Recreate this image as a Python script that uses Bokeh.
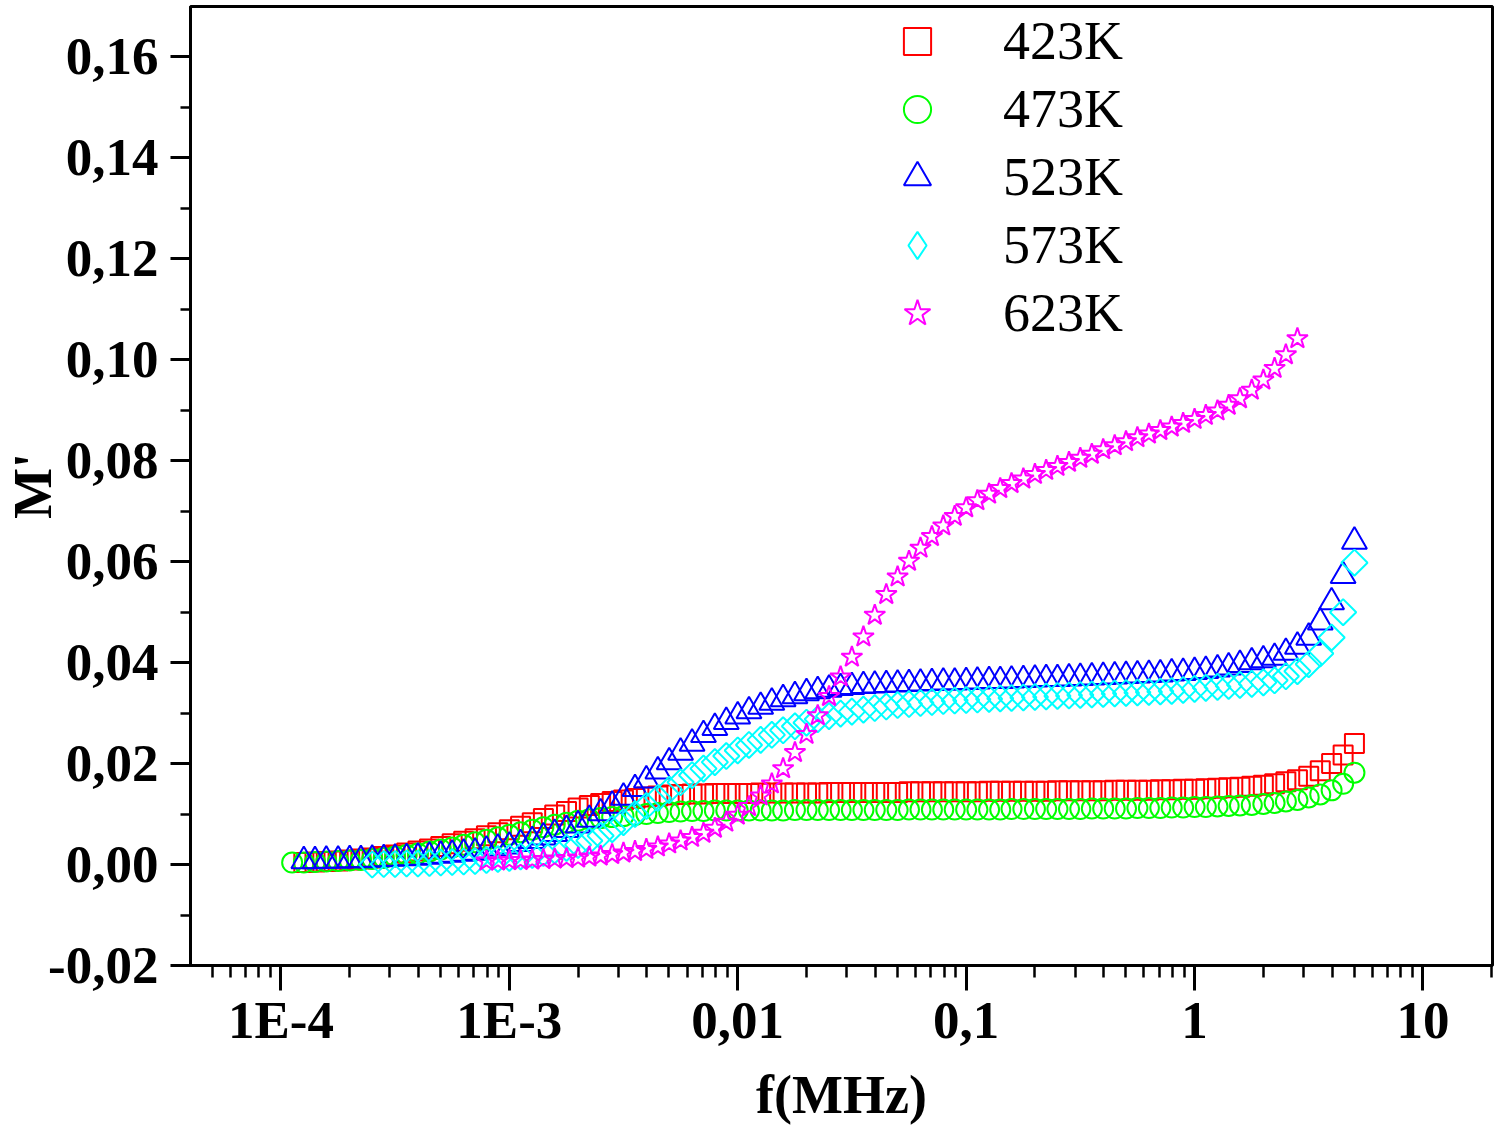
from math import pi

from bokeh.embed import file_html
from bokeh.models import (ColumnDataSource, CustomJSTickFormatter, FixedTicker, Legend, LegendItem,
                          Range1d)
from bokeh.plotting import figure
from bokeh.resources import INLINE

# frequency sweep (MHz), shared by all temperatures
freq_mhz = [
    1.12e-4, 1.26e-4, 1.41e-4, 1.58e-4, 1.78e-4, 2.00e-4, 2.24e-4, 2.51e-4, 2.82e-4, 3.16e-4,
    3.55e-4, 3.98e-4, 4.47e-4, 5.01e-4, 5.62e-4, 6.31e-4, 7.08e-4, 7.94e-4, 8.91e-4,
    1.00e-3, 1.12e-3, 1.26e-3, 1.41e-3, 1.58e-3, 1.78e-3, 2.00e-3, 2.24e-3, 2.51e-3, 2.82e-3,
    3.16e-3, 3.55e-3, 3.98e-3, 4.47e-3, 5.01e-3, 5.62e-3, 6.31e-3, 7.08e-3, 7.94e-3, 8.91e-3,
    0.0100, 0.0112, 0.0126, 0.0141, 0.0158, 0.0178, 0.0200, 0.0224, 0.0251, 0.0282,
    0.0316, 0.0355, 0.0398, 0.0447, 0.0501, 0.0562, 0.0631, 0.0708, 0.0794, 0.0891,
    0.100, 0.112, 0.126, 0.141, 0.158, 0.178, 0.200, 0.224, 0.251, 0.282,
    0.316, 0.355, 0.398, 0.447, 0.501, 0.562, 0.631, 0.708, 0.794, 0.891,
    1.00, 1.12, 1.26, 1.41, 1.58, 1.78, 2.00, 2.24, 2.51, 2.82,
    3.16, 3.55, 3.98, 4.47, 5.01,
]

# M' values, each series starts at freq_mhz[start]
m_423_start = 1
m_423 = [
    0.0004, 0.0005, 0.0006, 0.0007, 0.0009, 0.0011, 0.0013, 0.0016, 0.0019, 0.0023,
    0.0027, 0.0031, 0.0036, 0.0041, 0.0046, 0.0051, 0.0057, 0.0063, 0.0069, 0.0076,
    0.0083, 0.0091, 0.0098, 0.0105, 0.0112, 0.0117, 0.0121, 0.0125, 0.0128, 0.0131,
    0.0134, 0.0136, 0.0138, 0.0139, 0.0140, 0.0140, 0.0141, 0.0141, 0.0141, 0.0141,
    0.0142, 0.0142, 0.0142, 0.0142, 0.0142, 0.0142, 0.0143, 0.0143, 0.0143, 0.0143,
    0.0143, 0.0143, 0.0143, 0.0144, 0.0144, 0.0144, 0.0144, 0.0144, 0.0144, 0.0144,
    0.0145, 0.0145, 0.0145, 0.0145, 0.0145, 0.0145, 0.0146, 0.0146, 0.0146, 0.0146,
    0.0146, 0.0147, 0.0147, 0.0147, 0.0147, 0.0148, 0.0148, 0.0149, 0.0149, 0.0150,
    0.0151, 0.0152, 0.0153, 0.0155, 0.0157, 0.0160, 0.0164, 0.0168, 0.0175, 0.0186,
    0.0200, 0.0217, 0.0240,
]

m_473_start = 0
m_473 = [
    0.0004, 0.0004, 0.0005, 0.0006, 0.0007, 0.0008, 0.0009, 0.0011, 0.0013, 0.0016,
    0.0019, 0.0022, 0.0026, 0.0030, 0.0034, 0.0039, 0.0044, 0.0049, 0.0054, 0.0059,
    0.0064, 0.0069, 0.0074, 0.0079, 0.0083, 0.0087, 0.0090, 0.0092, 0.0094, 0.0096,
    0.0098, 0.0100, 0.0102, 0.0104, 0.0105, 0.0106, 0.0106, 0.0107, 0.0107, 0.0107,
    0.0107, 0.0107, 0.0107, 0.0107, 0.0108, 0.0108, 0.0108, 0.0108, 0.0108, 0.0108,
    0.0108, 0.0108, 0.0108, 0.0108, 0.0109, 0.0109, 0.0109, 0.0109, 0.0109, 0.0109,
    0.0109, 0.0109, 0.0109, 0.0110, 0.0110, 0.0110, 0.0110, 0.0110, 0.0110, 0.0110,
    0.0111, 0.0111, 0.0111, 0.0111, 0.0112, 0.0112, 0.0112, 0.0113, 0.0113, 0.0114,
    0.0114, 0.0115, 0.0116, 0.0117, 0.0118, 0.0120, 0.0122, 0.0125, 0.0128, 0.0133,
    0.0139, 0.0147, 0.0160, 0.0182,
]

m_523_start = 1
m_523 = [
    0.0007, 0.0007, 0.0008, 0.0008, 0.0009, 0.0009, 0.0010, 0.0011, 0.0012, 0.0013,
    0.0014, 0.0016, 0.0018, 0.0020, 0.0022, 0.0024, 0.0028, 0.0032, 0.0036, 0.0041,
    0.0047, 0.0054, 0.0061, 0.0069, 0.0078, 0.0089, 0.0102, 0.0117, 0.0133, 0.0150,
    0.0167, 0.0185, 0.0203, 0.0222, 0.0240, 0.0257, 0.0271, 0.0283, 0.0294, 0.0304,
    0.0313, 0.0321, 0.0328, 0.0334, 0.0340, 0.0344, 0.0347, 0.0350, 0.0352, 0.0354,
    0.0355, 0.0356, 0.0357, 0.0358, 0.0359, 0.0360, 0.0361, 0.0361, 0.0362, 0.0363,
    0.0364, 0.0364, 0.0365, 0.0366, 0.0367, 0.0368, 0.0368, 0.0369, 0.0370, 0.0371,
    0.0372, 0.0373, 0.0374, 0.0375, 0.0376, 0.0377, 0.0379, 0.0380, 0.0382, 0.0384,
    0.0387, 0.0391, 0.0396, 0.0401, 0.0405, 0.0410, 0.0420, 0.0432, 0.0450, 0.0480,
    0.0520, 0.0572, 0.0640,
]

m_573_start = 7
m_573 = [
    0.0000, 0.0001, 0.0001, 0.0002, 0.0002, 0.0003, 0.0004, 0.0005, 0.0006, 0.0007,
    0.0009, 0.0011, 0.0013, 0.0016, 0.0019, 0.0023, 0.0028, 0.0033, 0.0039, 0.0047,
    0.0057, 0.0070, 0.0084, 0.0100, 0.0116, 0.0132, 0.0148, 0.0163, 0.0177, 0.0190,
    0.0203, 0.0215, 0.0226, 0.0237, 0.0247, 0.0257, 0.0266, 0.0274, 0.0281, 0.0288,
    0.0294, 0.0299, 0.0303, 0.0307, 0.0310, 0.0313, 0.0316, 0.0318, 0.0320, 0.0322,
    0.0324, 0.0325, 0.0326, 0.0327, 0.0328, 0.0329, 0.0330, 0.0331, 0.0332, 0.0333,
    0.0334, 0.0335, 0.0336, 0.0337, 0.0338, 0.0339, 0.0340, 0.0341, 0.0342, 0.0343,
    0.0344, 0.0346, 0.0348, 0.0350, 0.0352, 0.0354, 0.0356, 0.0358, 0.0361, 0.0365,
    0.0373, 0.0383, 0.0397, 0.0418, 0.0450, 0.0500, 0.0598,
]

m_623_start = 17
m_623 = [
    0.0007, 0.0007, 0.0008, 0.0008, 0.0009, 0.0010, 0.0011, 0.0012, 0.0013, 0.0015,
    0.0017, 0.0020, 0.0023, 0.0026, 0.0030, 0.0035, 0.0041, 0.0047, 0.0054, 0.0062,
    0.0072, 0.0084, 0.0098, 0.0115, 0.0136, 0.0160, 0.0190, 0.0222, 0.0258, 0.0295,
    0.0333, 0.0372, 0.0411, 0.0451, 0.0494, 0.0535, 0.0570, 0.0601, 0.0627, 0.0650,
    0.0671, 0.0690, 0.0707, 0.0721, 0.0734, 0.0745, 0.0755, 0.0764, 0.0773, 0.0781,
    0.0789, 0.0797, 0.0805, 0.0813, 0.0822, 0.0830, 0.0838, 0.0846, 0.0853, 0.0860,
    0.0867, 0.0874, 0.0882, 0.0890, 0.0899, 0.0910, 0.0923, 0.0940, 0.0960, 0.0983,
    0.1010, 0.1042,
]

x_tick_values = [1e-4, 1e-3, 1e-2, 1e-1, 1, 10]
x_tick_labels = ["1E-4", "1E-3", "0,01", "0,1", "1", "10"]
y_tick_values = [-0.02, 0.0, 0.02, 0.04, 0.06, 0.08, 0.10, 0.12, 0.14, 0.16]
y_tick_labels = ["-0,02", "0,00", "0,02", "0,04", "0,06", "0,08", "0,10", "0,12", "0,14", "0,16"]

FONT = "Liberation Serif"

p = figure(width=1495, height=1136, x_axis_type="log",
           x_range=Range1d(4.02e-5, 20.15), y_range=Range1d(-0.02, 0.17),
           output_backend="svg", toolbar_location=None,
           min_border_left=182, min_border_right=3, min_border_top=6, min_border_bottom=171)

p.xgrid.grid_line_color = None
p.ygrid.grid_line_color = None
p.outline_line_color = "black"
p.outline_line_width = 3
p.background_fill_color = "white"
p.border_fill_color = "white"

# ticks
x_minor = [m * 10.0 ** e for e in range(-5, 2) for m in range(2, 10)]
y_minor = [-0.01 + 0.02 * k for k in range(9)]
p.xaxis.ticker = FixedTicker(ticks=x_tick_values, minor_ticks=x_minor)
p.yaxis.ticker = FixedTicker(ticks=y_tick_values, minor_ticks=y_minor)

p.xaxis.formatter = CustomJSTickFormatter(args=dict(vals=x_tick_values, labs=x_tick_labels), code="""
    let k = 0, d = Infinity;
    for (let i = 0; i < vals.length; i++) {
        const e = Math.abs(Math.log10(vals[i]) - Math.log10(tick));
        if (e < d) { d = e; k = i; }
    }
    return labs[k];
""")
p.yaxis.formatter = CustomJSTickFormatter(args=dict(vals=y_tick_values, labs=y_tick_labels), code="""
    let k = 0, d = Infinity;
    for (let i = 0; i < vals.length; i++) {
        const e = Math.abs(vals[i] - tick);
        if (e < d) { d = e; k = i; }
    }
    return labs[k];
""")

for ax in (p.xaxis, p.yaxis):
    ax.axis_line_width = 3
    ax.axis_line_color = "black"
    ax.major_tick_line_width = 3
    ax.minor_tick_line_width = 2.5
    ax.major_tick_in = 0
    ax.minor_tick_in = 0
    ax.major_label_text_font = FONT
    ax.major_label_text_font_style = "bold"
    ax.major_label_text_font_size = "53px"
    ax.major_label_text_color = "black"
    ax.axis_label_text_font = FONT
    ax.axis_label_text_font_style = "bold"
    ax.axis_label_text_font_size = "54px"
    ax.axis_label_text_color = "black"

p.xaxis.major_tick_out = 25
p.xaxis.minor_tick_out = 12
p.yaxis.major_tick_out = 20
p.yaxis.minor_tick_out = 10
p.xaxis.major_label_standoff = 0
p.yaxis.major_label_standoff = 12
p.xaxis.axis_label = "f(MHz)"
p.yaxis.axis_label = "M'"
p.xaxis.axis_label_standoff = 13
p.yaxis.axis_label_standoff = -18


def seg(start, vals):
    return freq_mhz[start:start + len(vals)]


r423 = p.scatter(seg(m_423_start, m_423), m_423, marker="square", size=19,
                 fill_color=None, line_color="#FF0000", line_width=2)
r473 = p.scatter(seg(m_473_start, m_473), m_473, marker="circle", size=20,
                 fill_color=None, line_color="#00FF00", line_width=2)
r523 = p.scatter(seg(m_523_start, m_523), m_523, marker="triangle", size=25,
                 fill_color=None, line_color="#0000FF", line_width=2)
src573 = ColumnDataSource(dict(f=seg(m_573_start, m_573), m=m_573))
r573 = p.scatter("f", "m", source=src573, marker="square", size=18.5, angle=pi / 4,
                 fill_color=None, line_color="#00FFFF", line_width=2)
r623 = p.scatter(seg(m_623_start, m_623), m_623, marker="star", size=22,
                 fill_color=None, line_color="#FF00FF", line_width=2)

# the legend draws markers unrotated, so 573K gets a diamond stand-in that is
# mapped onto a range where none of its points fall inside the frame
p.extra_y_ranges = {"legend_only": Range1d(1, 2)}
r573_key = p.scatter("f", "m", source=src573, y_range_name="legend_only",
                     marker="diamond", fill_color=None, line_color="#00FFFF", line_width=2)

legend = Legend(items=[
    LegendItem(label="423K", renderers=[r423]),
    LegendItem(label="473K", renderers=[r473]),
    LegendItem(label="523K", renderers=[r523]),
    LegendItem(label="573K", renderers=[r573_key]),
    LegendItem(label="623K", renderers=[r623]),
], location=(693, 618))
legend.glyph_width = 68
legend.glyph_height = 68
legend.label_height = 68
legend.label_standoff = 52
legend.spacing = 0
legend.padding = 0
legend.margin = 0
legend.border_line_alpha = 0
legend.background_fill_alpha = 0
legend.label_text_font = FONT
legend.label_text_font_size = "54px"
legend.label_text_color = "black"
p.add_layout(legend, "center")

open("out.html", "w").write(file_html(p, INLINE))
